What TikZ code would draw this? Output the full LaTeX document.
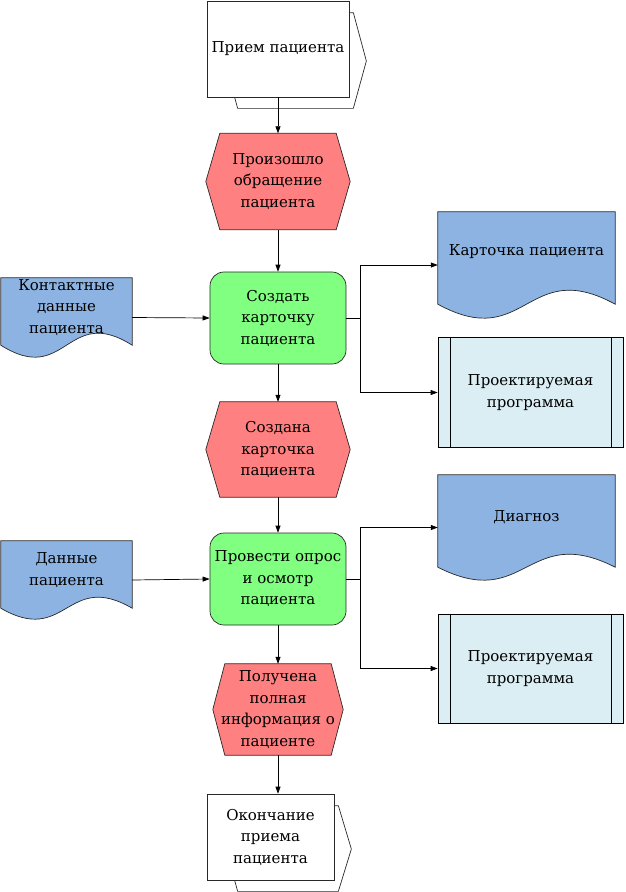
\documentclass[tikz,border=0pt]{standalone}
\usepackage{fontspec}
\setmainfont{DejaVu Serif}
\newfontfamily\diagfont{DejaVu Serif}
\usepackage{tikz}
\usetikzlibrary{arrows.meta, calc, backgrounds}

\definecolor{evred}{RGB}{255, 128, 128}
\definecolor{fungreen}{RGB}{128, 255, 128}
\definecolor{docblue}{RGB}{141, 179, 226}
\definecolor{progblue}{RGB}{218, 238, 243}
\definecolor{edgegray}{RGB}{40, 40, 40}

% hexagon around an event node
\newcommand{\evshape}[2]{%
  \draw[evline] ($(#1.north west)+(#2,0)$) -- ($(#1.north east)+(-#2,0)$) -- (#1.east)
    -- ($(#1.south east)+(-#2,0)$) -- ($(#1.south west)+(#2,0)$) -- (#1.west) -- cycle;}
% document with wavy lower edge
\newcommand{\docshape}[2]{%
  \draw[docline] ($(#1.south west)+(0,-#2)$) -- (#1.north west) -- (#1.north east)
    -- ($(#1.south east)+(0,-#2)$)
    .. controls ($(#1.south)+(0,{-4.46*#2})$) and ($(#1.south)+(0,{2.46*#2})$) .. ($(#1.south west)+(0,-#2)$) -- cycle;}
% back sheet of a process interface
\newcommand{\ifaceback}[1]{%
  \draw[edgegray, line width=0.7pt] ($(#1.south west)+(28,0)$) -- ++(3,11) -- ($(#1.south east)+(4,11)$)
    -- ($(#1.east)+(17,12)$) -- ($(#1.north east)+(4,12)$) -- ++(-4,0);}

\begin{document}
\begin{tikzpicture}[x=1pt, y=-1pt,
  every node/.style={font=\diagfont\fontsize{15}{21.5}\selectfont, align=center, inner sep=1pt},
  iface/.style={draw=edgegray, line width=0.7pt, fill=white},
  evnode/.style={minimum width=144pt, minimum height=96pt},
  evline/.style={draw=edgegray, line width=0.7pt, fill=evred},
  func/.style={draw=edgegray, line width=0.7pt, fill=fungreen, rounded corners=14pt, minimum width=136pt, minimum height=92pt},
  docnode/.style={minimum width=131pt},
  docline/.style={draw=edgegray, line width=0.7pt, fill=docblue},
  prog/.style={draw=black, line width=0.7pt, fill=progblue, minimum width=185pt, minimum height=110pt,
    path picture={\draw[line width=0.7pt] ([xshift=12pt]path picture bounding box.north west) -- ([xshift=12pt]path picture bounding box.south west)
      ([xshift=-12pt]path picture bounding box.north east) -- ([xshift=-12pt]path picture bounding box.south east);}},
  link/.style={draw=black, line width=0.7pt, -{Triangle[length=7pt, width=5pt]}}]
  \useasboundingbox (0,0) rectangle (625,892);

  % main chain
  \node[iface, minimum width=142pt, minimum height=96pt] (priem) at (278,49) {Прием пациента};
  \ifaceback{priem}
  \node[evnode] (obr) at (278,181.5) {Произошло\\обращение\\пациента};
  \node[func] (sozd) at (278,318) {Создать\\карточку\\пациента};
  \node[evnode, minimum height=95pt] (sozdana) at (278,449.5) {Создана\\карточка\\пациента};
  \node[func] (opros) at (278,579) {Провести опрос\\и осмотр\\пациента};
  \node[evnode, minimum width=130pt, minimum height=91pt] (polna) at (278,709.5) {Получена\\полная\\информация о\\пациенте};
  \node[iface, minimum width=127pt, minimum height=86pt] (okon) at (270.5,837) {Окончание\\приема\\пациента};
  \ifaceback{okon}

  % inputs
  \node[docnode, minimum height=79pt, label={[yshift=10pt]center:{Контактные\\данные\\пациента}}] (kontakt) at (66.5,317.5) {};
  \node[docnode, minimum height=78pt, label={[yshift=10pt]center:{Данные\\пациента}}] (dannye) at (66.5,580) {};

  % outputs
  \node[docnode, minimum width=177pt, minimum height=106pt, label={[yshift=13pt]center:Карточка пациента}] (kart) at (526.5,265) {};
  \node[prog] (prog1) at (530.5,392.5) {Проектируемая\\программа};
  \node[docnode, minimum width=177pt, minimum height=105pt, label={[yshift=10pt]center:Диагноз}] (diag) at (526.5,527.5) {};
  \node[prog, minimum height=109pt] (prog2) at (530.5,668.5) {Проектируемая\\программа};

  \begin{scope}[on background layer]
    \evshape{obr}{14}
    \evshape{sozdana}{14}
    \evshape{polna}{12}
    \docshape{kontakt}{12}
    \docshape{dannye}{11}
    \docshape{kart}{14}
    \docshape{diag}{13}
  \end{scope}

  % connectors
  \draw[link] (priem.south) -- (obr.north);
  \draw[link] (obr.south) -- (sozd.north);
  \draw[link] (sozd.south) -- (sozdana.north);
  \draw[link] (sozdana.south) -- (opros.north);
  \draw[link] (opros.south) -- (polna.north);
  \draw[link] (polna.south) -- (polna.south |- okon.north);
  \draw[link] (kontakt.east) -- (sozd.west);
  \draw[link] (dannye.east) -- (opros.west);
  \draw[link] (sozd.east) -- ++(14,0) coordinate (br1) |- (kart.west);
  \draw[link] (br1) |- (prog1.west);
  \draw[link] (opros.east) -- ++(14,0) coordinate (br2) |- (diag.west);
  \draw[link] (br2) |- (prog2.west);
\end{tikzpicture}
\end{document}
